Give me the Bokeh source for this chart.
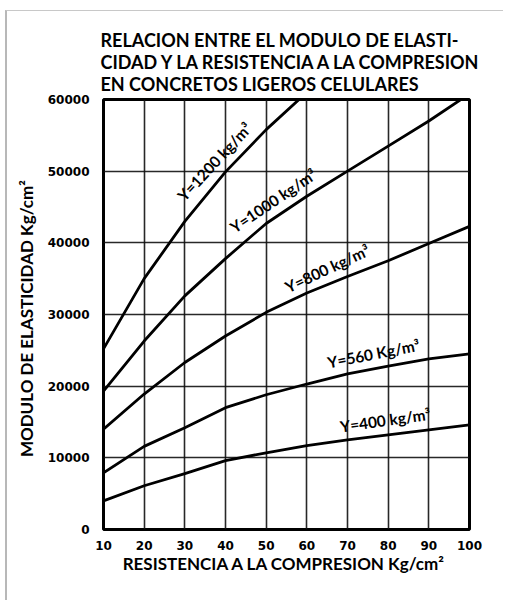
import math
from bokeh.plotting import figure
from bokeh.models import Label, FixedTicker, Range1d
from bokeh.embed import file_html
from bokeh.resources import INLINE

# ---- data ----
resistencia = [10, 20, 30, 40, 50, 60, 70, 80, 90, 100]
e_1200 = [25200, 35000, 43000, 49900, 55800, 61000, None, None, None, None]
e_1000 = [19300, 26300, 32600, 37800, 42700, 46500, 50000, 53500, 57000, 60800]
e_800 = [14000, 18900, 23300, 27000, 30300, 33000, 35300, 37500, 39900, 42300]
e_560 = [7900, 11600, 14200, 17000, 18800, 20300, 21700, 22800, 23800, 24500]
e_400 = [4000, 6100, 7800, 9600, 10700, 11700, 12500, 13200, 13900, 14600]

x_ticks = [10, 20, 30, 40, 50, 60, 70, 80, 90, 100]
y_ticks = [0, 10000, 20000, 30000, 40000, 50000, 60000]

title_lines = ["RELACION ENTRE EL MODULO DE ELASTI-",
               "CIDAD Y LA RESISTENCIA A LA COMPRESION",
               "EN CONCRETOS LIGEROS CELULARES"]
curve_labels = ["Y=1200 kg/m³", "Y=1000 kg/m³", "Y=800 kg/m³", "Y=560 Kg/m³", "Y=400 kg/m³"]
label_x = [40.0, 53.8, 66.6, 77.1, 79.8]
label_y = [49900, 44150, 34520, 22480, 13190]
label_angle = [47, 34, 25, 11, 8]

FONT = "Lato"
PX_X = 366 / 90.0      # screen px per x unit
PX_Y = 430 / 60000.0   # screen px per y unit

p = figure(width=498, height=590, output_backend="svg", toolbar_location=None,
           x_range=Range1d(10, 100), y_range=Range1d(0, 60000),
           min_border_left=96, min_border_right=36, min_border_top=88, min_border_bottom=72)
p.margin = (10, 0, 0, 5)
p.styles = {"border-left": "2px solid #b8b8b8", "border-top": "1px solid #c8c8c8"}

p.title.text = "\n".join(title_lines)
p.title.align = "left"
p.title.offset = -3
p.title.text_font = FONT
p.title.text_font_style = "bold"
p.title.text_font_size = "18px"
p.title.text_line_height = 1.0
p.title.standoff = 9
p.title.text_color = "black"

p.background_fill_color = "white"
p.border_fill_color = "white"
p.outline_line_color = "black"
p.outline_line_width = 3

p.xaxis.ticker = FixedTicker(ticks=x_ticks)
p.yaxis.ticker = FixedTicker(ticks=y_ticks)
for ax in (p.xaxis[0], p.yaxis[0]):
    ax.axis_line_color = None
    ax.major_tick_line_color = None
    ax.minor_tick_line_color = None
    ax.major_label_text_font = "DejaVu Sans"
    ax.major_label_text_font_style = "bold"
    ax.major_label_text_font_size = "12px"
    ax.major_label_text_color = "black"
    ax.axis_label_text_font = FONT
    ax.axis_label_text_font_style = "bold"
    ax.axis_label_text_font_size = "17px"
    ax.axis_label_text_color = "black"

p.xaxis.major_label_standoff = 5
p.yaxis.major_label_standoff = 8
p.xaxis.axis_label = "RESISTENCIA A LA COMPRESION  Kg/cm²"
p.yaxis.axis_label = "MODULO DE ELASTICIDAD   Kg/cm²"
p.xaxis.axis_label_standoff = 0
p.yaxis.axis_label_standoff = 8

p.xgrid.ticker = FixedTicker(ticks=x_ticks)
p.ygrid.ticker = FixedTicker(ticks=y_ticks)
for g in (p.xgrid[0], p.ygrid[0]):
    g.grid_line_color = "#111111"
    g.grid_line_width = 1.6
    g.grid_line_alpha = 0.9

for series in (e_1200, e_1000, e_800, e_560, e_400):
    xs = [x for x, v in zip(resistencia, series) if v is not None]
    ys = [v for v in series if v is not None]
    p.line(xs, ys, line_color="black", line_width=2.8)

for txt, lx, ly, ang in zip(curve_labels, label_x, label_y, label_angle):
    a = math.radians(ang)
    off = 6.0
    p.add_layout(Label(x=lx - off * math.sin(a) / PX_X, y=ly + off * math.cos(a) / PX_Y,
                       text=txt, angle=ang, angle_units="deg",
                       text_align="center", text_baseline="bottom",
                       text_font=FONT, text_font_style="bold", text_font_size="15.5px",
                       text_color="black"))

open("out.html", "w").write(file_html(p, INLINE))
